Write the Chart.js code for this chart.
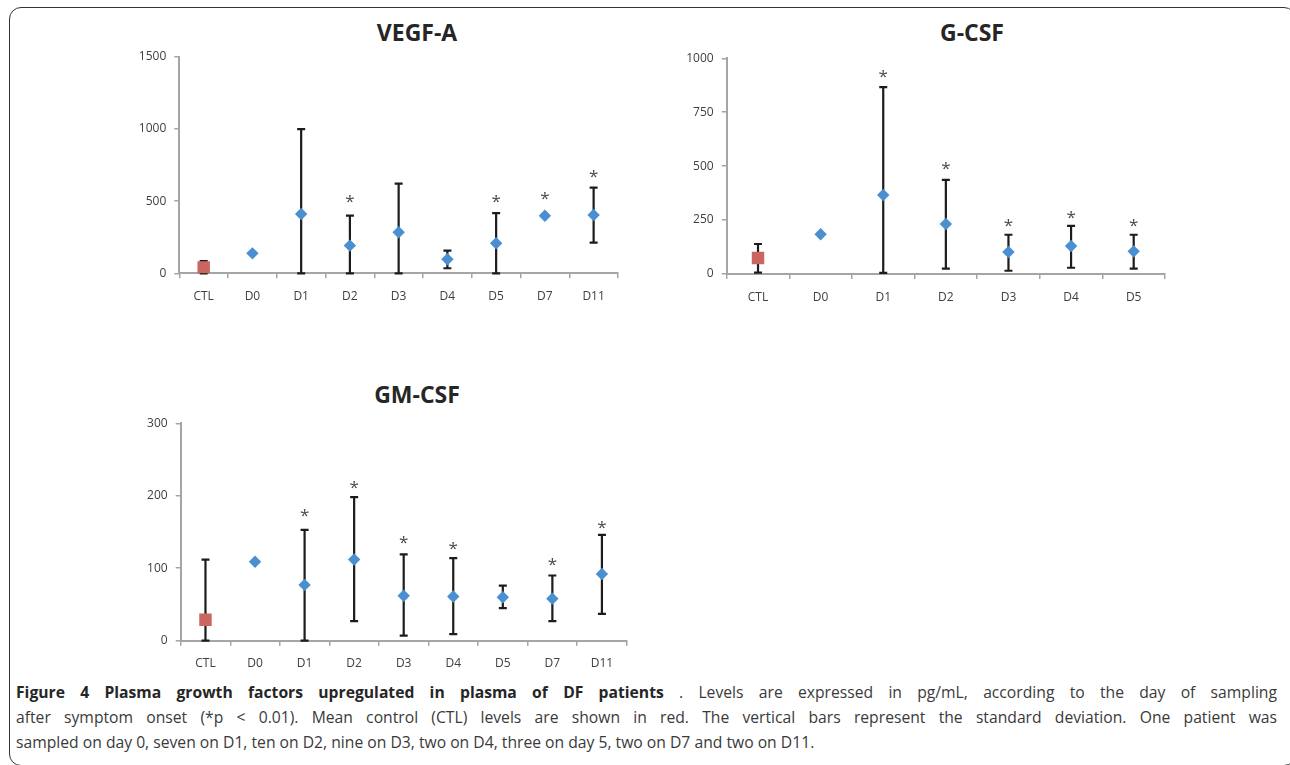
<!DOCTYPE html>
<html>
<head>
<meta charset="utf-8">
<script src="https://cdn.jsdelivr.net/npm/chart.js@4.4.1/dist/chart.umd.min.js"></script>
<style>
  html, body { margin: 0; padding: 0; background: #fff; }
  body { width: 1290px; height: 765px; position: relative; overflow: hidden; font-family: 'Open Sans', sans-serif; }
  .frame { position: absolute; left: 9px; top: 7px; width: 1287px; height: 759px; border: 1px solid #333; border-radius: 12px; box-sizing: border-box; }
  .panel { position: absolute; }
  .ttl { position: absolute; width: 240px; height: 30px; line-height: 30px; text-align: center; font-weight: 700; font-size: 23px; color: #262626; }
  .caption { position: absolute; left: 16px; top: 680px; width: 1261px; font-size: 15.7px; line-height: 25px; color: #3a3a3a; }
  .caption .j { text-align: justify; text-align-last: justify; }
  .caption b { color: #262626; }
</style>
</head>
<body>
<div class="frame"></div>

<div class="ttl" style="left:297px;top:17px">VEGF-A</div>
<div class="ttl" style="left:852px;top:17px">G-CSF</div>
<div class="ttl" style="left:297px;top:379px">GM-CSF</div>

<div class="panel" id="p1" style="left:100px;top:10px;width:530px;height:300px"><canvas id="vegf"></canvas></div>
<div class="panel" id="p2" style="left:650px;top:10px;width:530px;height:300px"><canvas id="gcsf"></canvas></div>
<div class="panel" id="p3" style="left:100px;top:380px;width:540px;height:300px"><canvas id="gmcsf"></canvas></div>

<div class="caption">
  <div class="j"><b>Figure 4 Plasma growth factors upregulated in plasma of DF patients</b> . Levels are expressed in pg/mL, according to the day of sampling</div>
  <div class="j">after symptom onset (*p &lt; 0.01). Mean control (CTL) levels are shown in red. The vertical bars represent the standard deviation. One patient was</div>
  <div>sampled on day 0, seven on D1, ten on D2, nine on D3, two on D4, three on day 5, two on D7 and two on D11.</div>
</div>

<script>
// categories
const days9 = ['CTL', 'D0', 'D1', 'D2', 'D3', 'D4', 'D5', 'D7', 'D11'];
const days7 = ['CTL', 'D0', 'D1', 'D2', 'D3', 'D4', 'D5'];

// VEGF-A (pg/mL)
const vegfMean = [40, 138, 411, 192, 284, 97, 208, 399, 404];
const vegfLow  = [0, null, 0, 0, 0, 35, 0, 392, 212];
const vegfHigh = [84, null, 999, 399, 621, 157, 417, 405, 594];
const vegfStar = [null, null, null, 531, null, null, 531, 548, 700];
const vegfTicks = [0, 500, 1000, 1500];

// G-CSF (pg/mL)
const gcsfMean = [74, 184, 366, 232, 102, 130, 105];
const gcsfLow  = [6, null, 5, 25, 15, 29, 25];
const gcsfHigh = [139, null, 866, 436, 182, 223, 182];
const gcsfStar = [null, null, 935, 508, 244, 283, 244];
const gcsfTicks = [0, 250, 500, 750, 1000];

// GM-CSF (pg/mL)
const gmMean = [29, 109, 77, 112, 62, 61, 60, 58, 92];
const gmLow  = [0, null, 0, 27, 7, 9, 45, 27, 37];
const gmHigh = [112, null, 153, 198, 119, 114, 76, 90, 146];
const gmStar = [null, null, 179, 217, 142, 134, null, 111, 163];
const gmTicks = [0, 100, 200, 300];

const AXIS_GREY = '#a2a5a9';
const TEXT_GREY = '#404040';
const BLUE = '#4a8fd0';
const RED = '#c8665f';

// error bars (drawn under the markers) + significance stars
const errorBarPlugin = {
  id: 'errorBars',
  beforeDatasetsDraw(chart, args, opts) {
    const x = chart.scales.x, y = chart.scales.y;
    const ctx = chart.ctx;
    ctx.save();
    ctx.strokeStyle = '#1c1c1c';
    ctx.lineWidth = 2.2;
    opts.low.forEach((lo, i) => {
      const hi = opts.high[i];
      if (lo == null || hi == null) return;
      const px = x.getPixelForValue(i);
      const y1 = y.getPixelForValue(lo);
      const y2 = y.getPixelForValue(hi);
      ctx.beginPath();
      ctx.moveTo(px, y1); ctx.lineTo(px, y2);
      ctx.moveTo(px - 4, y1); ctx.lineTo(px + 4, y1);
      ctx.moveTo(px - 4, y2); ctx.lineTo(px + 4, y2);
      ctx.stroke();
    });
    ctx.restore();
  },
  afterDatasetsDraw(chart, args, opts) {
    const x = chart.scales.x, y = chart.scales.y;
    const ctx = chart.ctx;
    ctx.save();
    ctx.fillStyle = '#4a4a4a';
    ctx.font = "17px 'Open Sans', sans-serif";
    ctx.textAlign = 'center';
    ctx.textBaseline = 'alphabetic';
    opts.stars.forEach((s, i) => {
      if (s == null) return;
      ctx.fillText('*', x.getPixelForValue(i), y.getPixelForValue(s) + 10);
    });
    ctx.restore();
  }
};

function renderPanel(canvasId, box, area, labels, mean, low, high, stars, ticks) {
  const ctx = document.getElementById(canvasId).getContext('2d');
  const yWidth = area.left - box.left;
  const xHeight = box.top + box.height - area.bottom;

  return new Chart(ctx, {
    type: 'line',
    data: {
      labels: labels,
      datasets: [{
        label: 'CTL',
        data: mean.map((v, i) => i === 0 ? v : null),
        showLine: false,
        pointStyle: 'rect',
        pointRadius: 8.8,
        pointBackgroundColor: RED,
        pointBorderWidth: 0
      }, {
        label: 'DF',
        data: mean.map((v, i) => i === 0 ? null : v),
        showLine: false,
        pointStyle: 'rectRot',
        pointRadius: 6.2,
        pointBackgroundColor: BLUE,
        pointBorderWidth: 0
      }]
    },
    options: {
      responsive: true,
      maintainAspectRatio: false,
      animation: false,
      layout: {
        padding: {
          left: 0,
          top: area.top - box.top,
          right: box.left + box.width - area.right,
          bottom: 0
        }
      },
      plugins: {
        legend: { display: false },
        tooltip: { enabled: false },
        errorBars: { low: low, high: high, stars: stars }
      },
      scales: {
        x: {
          type: 'category',
          offset: true,
          afterFit(scale) { scale.height = xHeight; },
          grid: {
            offset: true,
            drawOnChartArea: false,
            drawTicks: true,
            tickLength: 5,
            color: AXIS_GREY,
            lineWidth: 1.5
          },
          border: { color: AXIS_GREY, width: 2 },
          ticks: {
            color: TEXT_GREY,
            padding: 11,
            maxRotation: 0,
            autoSkip: false,
            font: { family: "'Open Sans', sans-serif", size: 12 }
          }
        },
        y: {
          min: ticks[0],
          max: ticks[ticks.length - 1],
          afterFit(scale) { scale.width = yWidth; },
          afterBuildTicks(scale) { scale.ticks = ticks.map(v => ({ value: v })); },
          grid: {
            drawOnChartArea: false,
            drawTicks: true,
            tickLength: 5,
            color: AXIS_GREY,
            lineWidth: 1.5
          },
          border: { color: AXIS_GREY, width: 2 },
          ticks: {
            color: TEXT_GREY,
            padding: 8,
            font: { family: "'Open Sans', sans-serif", size: 12 },
            callback: function(value) {
              return String(value);
            }
          }
        }
      }
    },
    plugins: [errorBarPlugin]
  });
}

renderPanel('vegf',
  { left: 100, top: 10, width: 530, height: 300 },
  { left: 179.3, right: 618, top: 56.7, bottom: 273.3 },
  days9, vegfMean, vegfLow, vegfHigh, vegfStar, vegfTicks);

renderPanel('gcsf',
  { left: 650, top: 10, width: 530, height: 300 },
  { left: 726.7, right: 1165, top: 58.3, bottom: 274 },
  days7, gcsfMean, gcsfLow, gcsfHigh, gcsfStar, gcsfTicks);

renderPanel('gmcsf',
  { left: 100, top: 380, width: 540, height: 300 },
  { left: 180.7, right: 626.7, top: 423.3, bottom: 640.7 },
  days9, gmMean, gmLow, gmHigh, gmStar, gmTicks);
</script>
</body>
</html>
